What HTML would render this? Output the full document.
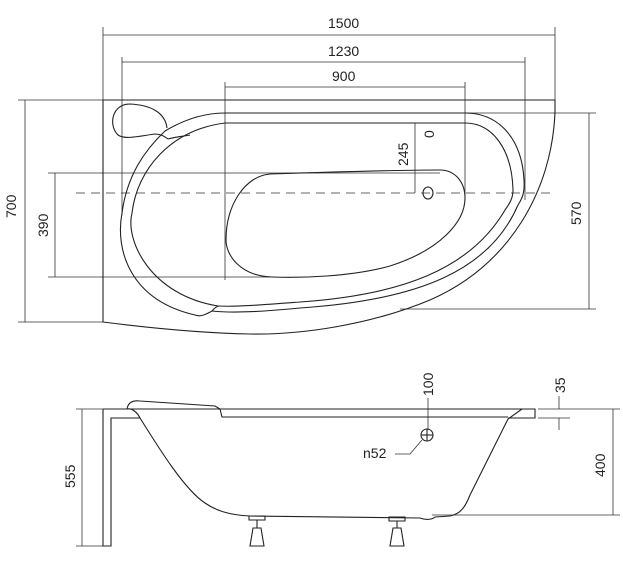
<!DOCTYPE html>
<html><head><meta charset="utf-8"><style>
html,body{margin:0;padding:0;background:#fff;}
svg{display:block;}
text{font-family:"Liberation Sans",Arial,sans-serif;font-size:14px;fill:#222;}
</style></head><body>
<svg width="623" height="564" viewBox="0 0 623 564" xmlns="http://www.w3.org/2000/svg">
<g fill="none" stroke="#333" stroke-width="0.8">
<line x1="103" y1="27" x2="103" y2="100"/><line x1="555" y1="27" x2="555" y2="100"/>
<line x1="103" y1="35" x2="555" y2="35"/>
<line x1="122" y1="57" x2="122" y2="215"/><line x1="525" y1="57" x2="525" y2="200"/>
<line x1="122" y1="62" x2="525" y2="62"/>
<line x1="225" y1="82" x2="225" y2="280"/><line x1="465" y1="82" x2="465" y2="200"/>
<line x1="225" y1="87" x2="465" y2="87"/>
<line x1="18" y1="100" x2="103" y2="100"/><line x1="18" y1="322" x2="103" y2="322"/>
<line x1="25" y1="100" x2="25" y2="322"/>
<line x1="48" y1="173" x2="440" y2="173"/><line x1="48" y1="277" x2="270" y2="277"/>
<line x1="55" y1="173" x2="55" y2="277"/>
<line x1="465" y1="113" x2="596" y2="113"/><line x1="400" y1="309" x2="596" y2="309"/>
<line x1="589" y1="113" x2="589" y2="309"/>
<line x1="415" y1="123" x2="415" y2="193"/>
<line x1="76" y1="193" x2="556" y2="193" stroke-dasharray="9,6"/>
</g>
<g fill="none" stroke="#222" stroke-width="1.1">
<path d="M103,100 L555,100 L555,112 C552,190 510,265 430,300 C370,325 300,335 250,334 C200,333 150,328 103,322 Z"/>
<path d="M167,128 C165,112 150,105 130,104 C112,104 108,125 118,135 C125,140 140,136 155,134 C162,134 165,137 168,139"/>
<path d="M165,131 C180,122 200,113 225,113 L465,113 C500,113 522,140 524,180 C525,195 521,200 518,205 C490,270 420,300 300,308 C260,312 230,313 212,311 C205,315 200,317 195,315 C130,300 115,250 122,213 C127,175 145,150 165,131 Z"/>
<path d="M225,123 L465,123 C493,123 512,150 513,190 C513,198 510,203 505,210 C470,270 400,295 300,302 C260,305 235,307 218,306 C150,295 125,240 132,213 C137,170 170,130 225,123 Z"/>
<path d="M168,139 C175,137 185,136 190,135"/>
<path d="M212,311 C215,307 218,306 220,306"/>
<path d="M270,174 C330,172 400,170 440,170 C455,170 465,182 465,198 C465,222 440,250 390,266 C350,277 300,278 272,277 C240,276 226,255 226,240 C226,205 245,176 270,174 Z"/>
<ellipse cx="428" cy="193" rx="5" ry="6"/>
</g>
<g fill="none" stroke="#333" stroke-width="0.8">
<line x1="76" y1="409" x2="103" y2="409"/><line x1="76" y1="546" x2="103" y2="546"/>
<line x1="82" y1="409" x2="82" y2="546"/>
<line x1="538" y1="409" x2="620" y2="409"/><line x1="538" y1="418" x2="570" y2="418"/>
<line x1="432" y1="515" x2="620" y2="515"/>
<line x1="613" y1="409" x2="613" y2="515"/>
<line x1="559" y1="396" x2="559" y2="409"/><line x1="559" y1="418" x2="559" y2="430"/>
<line x1="428" y1="398" x2="428" y2="430"/>
<path d="M395,454 L410,454 L422,440"/>
</g>
<g fill="none" stroke="#222" stroke-width="1.1">
<path d="M103,409 L535,409 L535,418 L508,418"/>
<path d="M103,409 L103,546 L111,546 L111,418 L140,418"/>
<path d="M127,409 C128,403 132,400 140,401 L215,406 L220,409"/>
<path d="M220,409 L222,417 L508,417"/>
<path d="M127,409 C132,408 137,412 140,418 C160,450 185,490 205,503 C215,510 228,515 250,516 L420,518 C425,520 432,520 435,517 L450,516 C460,514 465,508 470,495 L508,419 L522,409"/>
<circle cx="427" cy="435" r="6"/>
<line x1="421" y1="435" x2="433" y2="435"/><line x1="427" y1="429" x2="427" y2="441"/>
<path d="M249,516 L265,516 L265,520 L249,520 Z"/>
<line x1="257" y1="520" x2="257" y2="528"/>
<path d="M253,528 L261,528 L264,546 L250,546 Z"/>
<path d="M389,517 L405,517 L405,521 L389,521 Z"/>
<line x1="397" y1="521" x2="397" y2="528"/>
<path d="M393,528 L401,528 L404,546 L390,546 Z"/>
</g>
<text x="328" y="28">1500</text>
<text x="328" y="56">1230</text>
<text x="332" y="81">900</text>
<text transform="translate(16,218) rotate(-90)">700</text>
<text transform="translate(48,237) rotate(-90)">390</text>
<text transform="translate(581,225) rotate(-90)">570</text>
<text transform="translate(408,166) rotate(-90)">245</text>
<text transform="translate(434,138) rotate(-90)">0</text>
<text transform="translate(75,488) rotate(-90)">555</text>
<text transform="translate(605,477) rotate(-90)">400</text>
<text transform="translate(433,396) rotate(-90)">100</text>
<text transform="translate(565,393) rotate(-90)">35</text>
<text x="363" y="458">n52</text>
</svg>
</body></html>
